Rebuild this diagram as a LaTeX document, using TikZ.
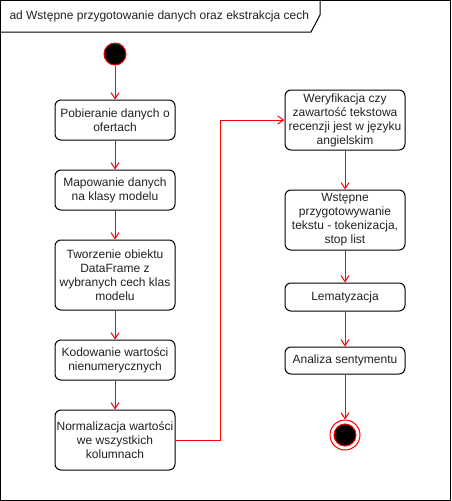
\documentclass[tikz,border=0pt]{standalone}
\usepackage{fontspec}
\setmainfont{Liberation Sans}
\usetikzlibrary{arrows.meta}
\definecolor{txt}{HTML}{222222}
\begin{document}
\begin{tikzpicture}[x=1pt,y=-1pt,line width=1pt,
  font=\fontsize{12}{14}\selectfont,
  act/.style={draw=black,rounded corners=6pt,minimum width=120pt,inner sep=0pt,align=center,text=txt,fill=white},
  arr/.style={draw=red,-{Straight Barb[length=6pt,width=8pt,line width=1pt]}}]
\useasboundingbox (0,0) rectangle (451,501);
% frame
\draw (0.5,0.5) rectangle (450.5,500.5);
\draw (0.5,32) -- (311,32) -- (320,15) -- (320,0.5);
\node[anchor=west,inner sep=0pt,text=txt] (title) at (9,16.5) {ad Wstępne przygotowanie danych oraz ekstrakcja cech};
% start
\node[circle,draw=red,fill=black,minimum size=22pt,inner sep=0pt] (start) at (115,54) {};
% left column
\node[act,minimum height=40pt] (n1) at (115,120) {Pobieranie danych o\\ofertach};
\node[act,minimum height=40pt] (n2) at (115,190) {Mapowanie danych\\na klasy modelu};
\node[act,minimum height=70pt] (n3) at (115,275) {Tworzenie obiektu\\DataFrame z\\wybranych cech klas\\modelu};
\node[act,minimum height=40pt] (n4) at (115,360) {Kodowanie wartości\\nienumerycznych};
\node[act,minimum height=60pt] (n5) at (115,440) {Normalizacja wartości\\we wszystkich\\kolumnach};
% right column
\node[act,minimum height=60pt] (n6) at (345,120) {Weryfikacja czy\\zawartość tekstowa\\recenzji jest w języku\\angielskim};
\node[act,minimum height=60pt] (n7) at (345,220) {Wstępne\\przygotowywanie\\tekstu - tokenizacja,\\stop list};
\node[act,minimum height=28pt] (n8) at (345,297) {Lematyzacja};
\node[act,minimum height=27pt] (n9) at (345,360.5) {Analiza sentymentu};
% end
\node[circle,draw=red,minimum size=30pt,inner sep=0pt] (end) at (345,435) {};
\node[circle,draw=red,fill=black,minimum size=22pt,inner sep=0pt] (endin) at (345,435) {};
% connectors
\coordinate (bend) at (220,440);
\draw[arr] (start) -- (n1);
\draw[arr] (n1) -- (n2);
\draw[arr] (n2) -- (n3);
\draw[arr] (n3) -- (n4);
\draw[arr] (n4) -- (n5);
\draw[arr] (n5.east) -- (bend) |- (n6.west);
\draw[arr] (n6) -- (n7);
\draw[arr] (n7) -- (n8);
\draw[arr] (n8) -- (n9);
\draw[arr] (n9) -- (end);
\end{tikzpicture}
\end{document}
